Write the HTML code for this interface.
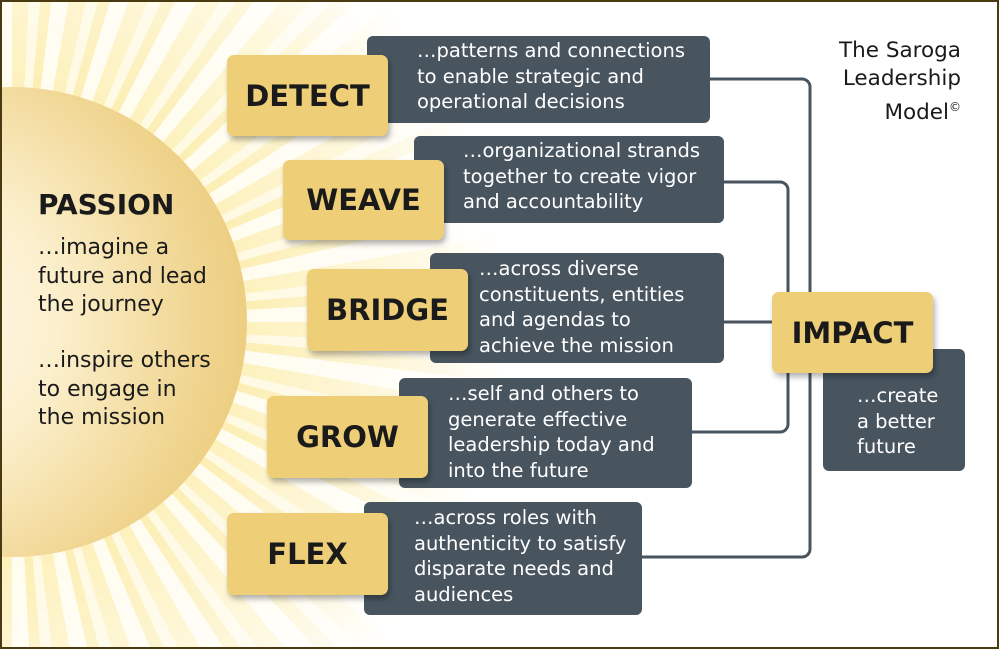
<!DOCTYPE html>
<html><head><style>
html,body{margin:0;width:999px;height:649px;overflow:hidden;background:#fff;font-family:"DejaVu Sans","Liberation Sans",sans-serif;}
#f{position:absolute;left:0;top:0;width:999px;height:649px;box-sizing:border-box;border:2px solid #4a3a12;overflow:hidden;background:#fff;}
.rays{position:absolute;left:-490px;top:-180px;width:1000px;height:1000px;border-radius:50%;
background:repeating-conic-gradient(from 0deg at 50% 50%,#fdf0b8 0deg 3deg,#fff9e0 3deg 5deg,#fcedae 5deg 7deg,#fffcee 7deg 10deg);
-webkit-mask:radial-gradient(circle,#000 30%,rgba(0,0,0,.45) 55%,transparent 70%);mask:radial-gradient(circle,#000 30%,rgba(0,0,0,.45) 55%,transparent 70%);}
.sun{position:absolute;left:-225px;top:85px;width:470px;height:470px;border-radius:50%;
background:radial-gradient(circle at 30% 50%,#fffaf0 0%,#fbefcc 35%,#f0d590 70%,#e7c36a 100%);}
.g{position:absolute;background:#eecf78;border-radius:7px;box-shadow:2px 4px 6px rgba(0,0,0,.3);font-weight:bold;font-size:29px;color:#1a1a1a;display:flex;align-items:center;justify-content:center;}
.d{position:absolute;background:#48555f;border-radius:6px;color:#fff;font-size:19.5px;line-height:25.5px;box-sizing:border-box;white-space:nowrap;}
.t{position:absolute;color:#1a1a1a;}
svg{position:absolute;left:0;top:0}
</style></head><body><div id="f">
<div class="rays"></div>
<div class="sun"></div>
<svg width="999" height="649"><g fill="none" stroke="#48555f" stroke-width="3">
<path d="M700 77 H800 a8 8 0 0 1 8 8 V547 a8 8 0 0 1 -8 8 H630"/>
<path d="M715 180 H778 a8 8 0 0 1 8 8 V422 a8 8 0 0 1 -8 8 H685"/>
<path d="M715 320 H775"/></g></svg>
<div class="t" style="left:36px;top:186px;font-size:28px;font-weight:bold">PASSION</div>
<div class="t" style="left:36px;top:232px;font-size:22px;line-height:28.5px">…imagine a<br>future and lead<br>the journey</div>
<div class="t" style="left:36px;top:345px;font-size:22px;line-height:28.5px">…inspire others<br>to engage in<br>the mission</div>
<div class="t" style="right:36px;top:35px;font-size:21.5px;line-height:28px;text-align:right">The Saroga<br>Leadership<br>Model<sup style="font-size:12px">©</sup></div>

<div class="d" style="left:365px;top:34px;width:343px;height:87px;padding:2px 0 0 50px">…patterns and connections<br>to enable strategic and<br>operational decisions</div>
<div class="g" style="left:225px;top:53px;width:161px;height:81px">DETECT</div>
<div class="d" style="left:412px;top:134px;width:310px;height:87px;padding:2px 0 0 49px">…organizational strands<br>together to create vigor<br>and accountability</div>
<div class="g" style="left:281px;top:158px;width:161px;height:80px">WEAVE</div>
<div class="d" style="left:428px;top:251px;width:294px;height:110px;padding:3px 0 0 49px">…across diverse<br>constituents, entities<br>and agendas to<br>achieve the mission</div>
<div class="g" style="left:305px;top:267px;width:161px;height:82px">BRIDGE</div>
<div class="d" style="left:397px;top:376px;width:293px;height:110px;padding:3px 0 0 49px">…self and others to<br>generate effective<br>leadership today and<br>into the future</div>
<div class="g" style="left:265px;top:394px;width:161px;height:82px">GROW</div>
<div class="d" style="left:362px;top:500px;width:278px;height:113px;padding:3px 0 0 50px">…across roles with<br>authenticity to satisfy<br>disparate needs and<br>audiences</div>
<div class="g" style="left:225px;top:511px;width:161px;height:82px">FLEX</div>
<div class="d" style="left:821px;top:347px;width:142px;height:122px;padding:34px 0 0 34px">…create<br>a better<br>future</div>
<div class="g" style="left:770px;top:290px;width:161px;height:81px">IMPACT</div>
</div></body></html>
